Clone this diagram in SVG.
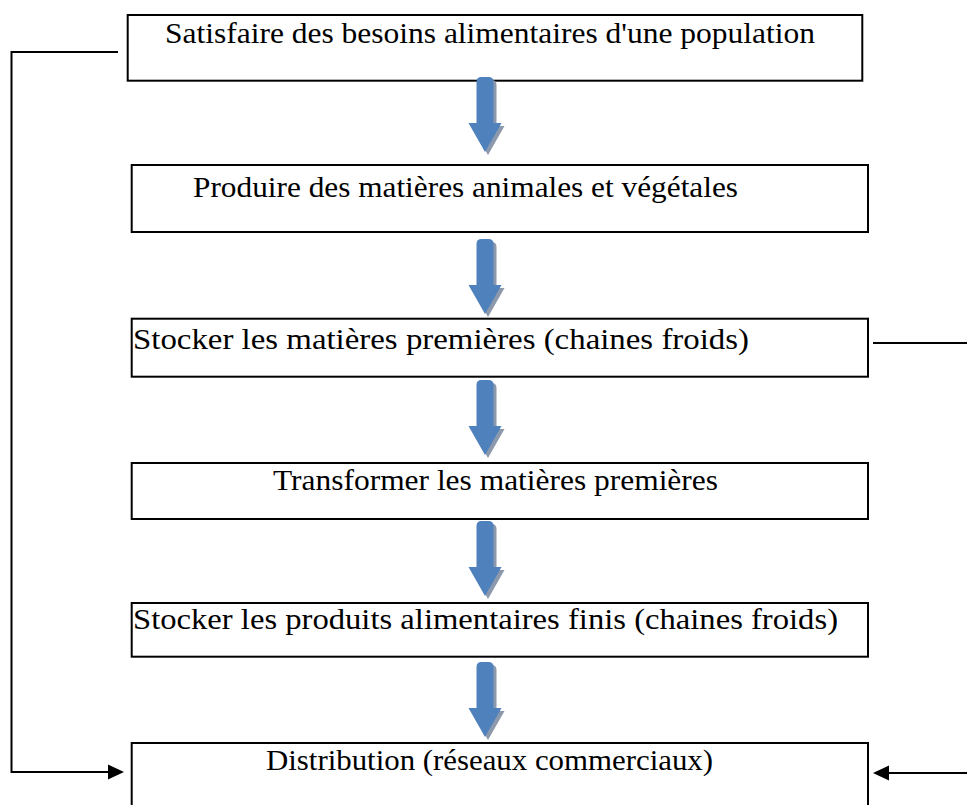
<svg xmlns="http://www.w3.org/2000/svg" width="967" height="805" viewBox="0 0 967 805">
<style>
.box{fill:#fff;stroke:#000;stroke-width:2}
.t{font-family:"Liberation Serif","Times New Roman",serif;font-size:30px;fill:#000}
.ln{fill:none;stroke:#000;stroke-width:2}
.ah{fill:#000}
.arr{fill:#4f81bd}
.sh{fill:#8c98ab}
</style>
<defs>
<path id="da" d="M -8.5,5 Q -8.5,0 -3.5,0 H 3.5 Q 8.5,0 8.5,5 V 46 H 16.5 L 0,75 L -16.5,46 H -8.5 Z"/>
</defs>
<rect width="967" height="805" fill="#fff"/>
<g id="n1"><rect class="box" x="127.7" y="15" width="734.6" height="65.7"/><text class="t" x="165" y="42.7" textLength="650" lengthAdjust="spacingAndGlyphs">Satisfaire des besoins alimentaires d'une population</text></g>
<g id="n2"><rect class="box" x="131.7" y="165" width="736.3" height="67"/><text class="t" x="193" y="196.7" textLength="545" lengthAdjust="spacingAndGlyphs">Produire des matières animales et végétales</text></g>
<g id="n3"><rect class="box" x="131.7" y="318.7" width="736.3" height="58"/><text class="t" x="133" y="349" textLength="616" lengthAdjust="spacingAndGlyphs">Stocker les matières premières (chaines froids)</text></g>
<g id="n4"><rect class="box" x="131.7" y="463" width="736.3" height="56"/><text class="t" x="273" y="490" textLength="445" lengthAdjust="spacingAndGlyphs">Transformer les matières premières</text></g>
<g id="n5"><rect class="box" x="131.7" y="603" width="736.3" height="53.7"/><text class="t" x="133" y="629.3" textLength="705" lengthAdjust="spacingAndGlyphs">Stocker les produits alimentaires finis (chaines froids)</text></g>
<g id="n6"><rect class="box" x="131.7" y="743" width="736.3" height="80"/><text class="t" x="266" y="770" textLength="447" lengthAdjust="spacingAndGlyphs">Distribution (réseaux commerciaux)</text></g>
<g id="connectors">
<polyline class="ln" points="118,52 11.5,52 11.5,772 110,772"/>
<polygon class="ah" points="108,764.5 124,772 108,779.5"/>
<line class="ln" x1="873" y1="343" x2="967" y2="343"/>
<line class="ln" x1="886" y1="773" x2="967" y2="773"/>
<polygon class="ah" points="873,773 889,765.5 889,780.5"/>
<g id="a1"><use href="#da" class="sh" transform="translate(488,80)"/><use href="#da" class="arr" transform="translate(485,77)"/></g>
<g id="a2"><use href="#da" class="sh" transform="translate(488,242)"/><use href="#da" class="arr" transform="translate(485,239)"/></g>
<g id="a3"><use href="#da" class="sh" transform="translate(488,383)"/><use href="#da" class="arr" transform="translate(485,380)"/></g>
<g id="a4"><use href="#da" class="sh" transform="translate(488,524)"/><use href="#da" class="arr" transform="translate(485,521)"/></g>
<g id="a5"><use href="#da" class="sh" transform="translate(488,665)"/><use href="#da" class="arr" transform="translate(485,662)"/></g>
</g>
</svg>
